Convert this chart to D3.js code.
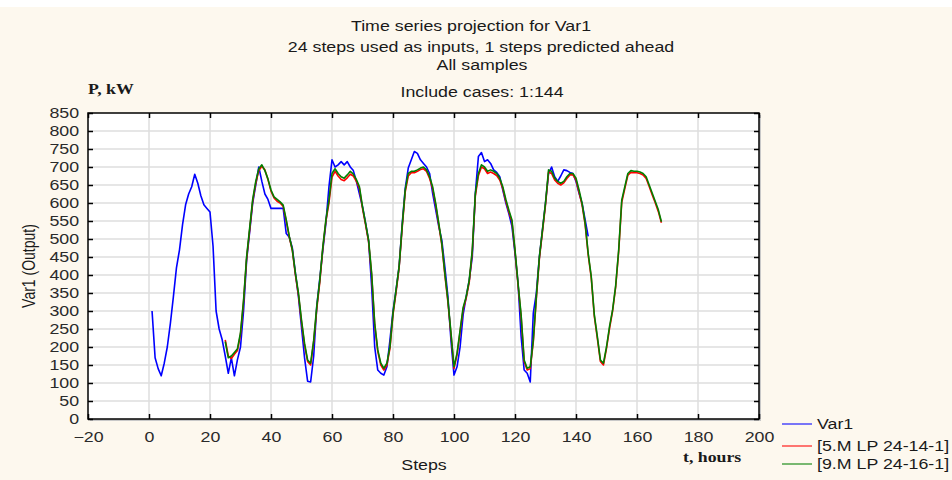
<!DOCTYPE html>
<html>
<head>
<meta charset="utf-8">
<script src="https://cdn.jsdelivr.net/npm/d3@7"></script>
<style>
  body { margin: 0; background: #ffffff; }
  svg text { font-family: "Liberation Sans", Arial, sans-serif; }
</style>
</head>
<body>
<div class="svg-container"></div>
<script>
// observed series, steps 1..144
var var1Start = 1;
var var1 = [300,170,140,120,155,200,265,340,420,470,
  540,595,625,645,680,655,620,595,585,575,
  480,300,250,220,175,127,170,120,165,200,
  300,440,520,600,650,700,660,625,610,585,
  585,585,585,585,515,505,475,405,340,255,
  170,105,103,175,312,390,470,544,645,720,
  700,706,715,706,715,700,690,660,625,590,
  545,495,368,200,136,127,122,145,219,300,
  358,423,540,640,697,720,743,738,720,710,
  700,682,627,581,535,497,423,340,219,122,
  145,200,290,340,386,451,627,729,740,715,
  720,710,692,685,673,636,600,570,535,460,
  377,230,136,127,103,294,350,451,525,600,
  682,700,673,660,675,692,690,685,682,660,
  627,599,553,507];

// model predictions, steps 25..168
var predStart = 25;
var mlp5 = [220,175,168,180,190,235,325,445,525,605,
  655,690,702,692,665,633,614,605,600,590,
  550,505,468,400,345,270,205,160,150,215,
  305,380,475,550,600,672,688,675,665,662,
  670,680,675,660,640,585,540,492,400,262,
  188,150,136,150,196,290,352,420,530,630,
  675,684,684,688,693,695,688,668,640,594,
  540,484,400,325,236,140,178,242,305,336,
  380,465,620,676,700,695,682,686,682,676,
  664,640,605,575,548,466,372,285,160,136,
  140,214,335,446,520,595,686,682,664,655,
  650,656,668,678,678,664,630,594,540,456,
  392,286,224,160,150,196,252,300,366,466,
  602,640,677,685,684,684,682,678,668,646,
  622,600,576,545];
var mlp9 = [215,170,175,185,195,240,330,450,530,610,
  660,695,706,690,667,636,617,610,603,594,
  553,507,470,405,350,275,210,164,155,219,
  312,386,479,553,608,682,695,682,673,669,
  678,688,680,665,645,590,544,497,405,266,
  192,155,141,155,201,294,358,423,535,636,
  682,688,688,692,697,700,692,673,645,599,
  544,488,405,330,240,145,183,247,310,340,
  386,470,627,682,706,700,688,692,688,682,
  669,645,610,580,553,470,377,290,164,141,
  145,219,340,451,525,600,692,688,669,660,
  655,660,673,682,682,669,636,599,544,460,
  396,290,229,164,155,200,257,303,370,470,
  608,645,682,690,688,688,686,682,673,650,
  627,604,581,548];

var xTicks = [-20,0,20,40,60,80,100,120,140,160,180,200];
var yTicks = [0,50,100,150,200,250,300,350,400,450,500,550,600,650,700,750,800,850];
var seriesNames = ["Var1", "[5.M LP 24-14-1]", "[9.M LP 24-16-1]"];
var seriesColors = ["#0000ff", "#ff0000", "#008000"];
var titleLines = ["Time series projection for Var1",
  "24 steps used as inputs, 1 steps predicted ahead",
  "All samples",
  "Include cases: 1:144"];

// the source picture is stretched sideways, so the text is too
var stretch = 1.27;

var svg = d3.select("body").select(".svg-container").append("svg")
  .attr("width", 952)
  .attr("height", 480);

svg.append("rect").attr("x", 0).attr("y", 7).attr("width", 952).attr("height", 473)
  .attr("fill", "#fdf8ee");

var x = d3.scaleLinear().domain([-20, 200]).range([88, 759]);
var y = d3.scaleLinear().domain([0, 850]).range([419, 113]);

// shadow + plot background
svg.append("rect")
  .attr("x", x(-20) + 2).attr("y", y(850) + 2)
  .attr("width", x(200) - x(-20)).attr("height", y(0) - y(850))
  .attr("fill", "#c8c8c8");
svg.append("rect")
  .attr("x", x(-20)).attr("y", y(850))
  .attr("width", x(200) - x(-20)).attr("height", y(0) - y(850))
  .attr("fill", "#ffffff");

// grid
svg.append("g").selectAll("line").data(yTicks.slice(1, -1)).enter().append("line")
  .attr("x1", x(-20)).attr("x2", x(200))
  .attr("y1", d => y(d)).attr("y2", d => y(d))
  .attr("stroke", "#dedede").attr("stroke-width", 1.5);
svg.append("g").selectAll("line").data(xTicks.slice(1, -1)).enter().append("line")
  .attr("y1", y(0)).attr("y2", y(850))
  .attr("x1", d => x(d)).attr("x2", d => x(d))
  .attr("stroke", "#dedede").attr("stroke-width", 1.5);

// series
function toPts(arr, start) {
  return arr.map((v, i) => [start + i, v]);
}
var line = d3.line().x(d => x(d[0])).y(d => y(d[1]));
var allSeries = [toPts(var1, var1Start), toPts(mlp5, predStart), toPts(mlp9, predStart)];
allSeries.forEach(function(s, i) {
  svg.append("path").datum(s)
    .attr("d", line)
    .attr("fill", "none")
    .attr("stroke", seriesColors[i])
    .attr("stroke-width", 1.6)
    .attr("stroke-linejoin", "round");
});

// axes
var gx = svg.append("g").attr("transform", "translate(0," + y(0) + ")")
  .call(d3.axisBottom(x).tickValues(xTicks).tickSize(-5).tickPadding(13).tickFormat(d3.format("d")));
var gy = svg.append("g").attr("transform", "translate(" + x(-20) + ",0)")
  .call(d3.axisLeft(y).tickValues(yTicks).tickSize(-5).tickPadding(7));
var gt = svg.append("g").attr("transform", "translate(0," + y(850) + ")")
  .call(d3.axisTop(x).tickValues(xTicks).tickSize(-5).tickFormat(""));
var gr = svg.append("g").attr("transform", "translate(" + x(200) + ",0)")
  .call(d3.axisRight(y).tickValues(yTicks).tickSize(-5).tickFormat(""));
[gx, gy, gt, gr].forEach(function(g) {
  g.select(".domain").remove();
  g.selectAll(".tick line").attr("stroke", "#000").attr("stroke-width", 1.5);
  g.selectAll(".tick text").attr("font-size", "14px").attr("fill", "#2a2a2a")
    .attr("font-family", "Liberation Sans, Arial, sans-serif")
    .attr("transform", "scale(" + stretch + ",1)");
});

// frame
svg.append("rect")
  .attr("x", x(-20)).attr("y", y(850))
  .attr("width", x(200) - x(-20)).attr("height", y(0) - y(850))
  .attr("fill", "none").attr("stroke", "#000").attr("stroke-width", 1.5);

// stretched text helper
function label(px, py, txt, anchor, serif, bold) {
  var t = svg.append("g")
    .attr("transform", "translate(" + px + "," + py + ") scale(" + stretch + ",1)")
    .append("text")
    .attr("text-anchor", anchor)
    .attr("font-size", "14px")
    .attr("fill", "#1a1a1a")
    .text(txt);
  if (serif) t.style("font-family", "Liberation Serif, serif");
  if (bold) t.attr("font-weight", "bold");
  return t;
}

var titleX = [471, 481, 482, 482];
var titleY = [31, 52, 70, 97];
titleLines.forEach(function(d, i) {
  label(titleX[i], titleY[i], d, "middle");
});

label(88, 94, "P, kW", "start", true, true);
label(424, 470, "Steps", "middle");
label(683, 462, "t, hours", "start", true, true);

svg.append("text")
  .attr("transform", "translate(35,266) scale(" + stretch + ",1) rotate(-90)")
  .attr("text-anchor", "middle")
  .attr("font-size", "14px")
  .attr("fill", "#1a1a1a")
  .text("Var1 (Output)");

// legend
seriesNames.forEach(function(name, i) {
  var ly = [424, 446, 464][i];
  svg.append("line")
    .attr("x1", 782).attr("x2", 812).attr("y1", ly).attr("y2", ly)
    .attr("stroke", seriesColors[i]).attr("stroke-width", 1.5).attr("opacity", 0.7);
  label(817, ly + 5, name, "start");
});
</script>
</body>
</html>
